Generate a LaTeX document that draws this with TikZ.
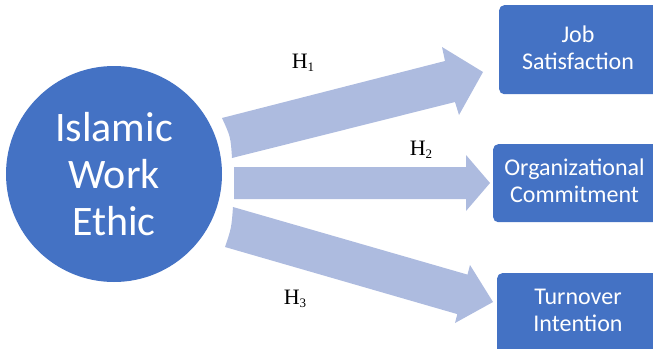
\documentclass[tikz,border=0pt]{standalone}
\usepackage{fontspec}
\setmainfont{Liberation Serif}
\newfontfamily\calib{Carlito}
\definecolor{iweblue}{HTML}{4472C4}
\definecolor{arrowblue}{HTML}{ADBBDF}
\begin{document}
\begin{tikzpicture}[x=1pt,y=-1pt,
  mainbox/.style={fill=iweblue, rounded corners=5pt, inner sep=0pt, anchor=north west},
  boxtext/.style={text=white, font=\calib\fontsize{24}{27}\selectfont, align=center, inner sep=0pt},
  hlabel/.style={font=\fontsize{22}{24}\selectfont, inner sep=0pt},
  blockarrow/.style={fill=arrowblue}]
\useasboundingbox (0,0) rectangle (653,348);
\clip (0,0) rectangle (653,348);
% central circle
\node[circle, fill=iweblue, minimum size=216pt, inner sep=0pt,
      text=white, font=\calib\fontsize{42}{47}\selectfont, align=center] (iwe) at (114,174) {Islamic\\Work\\Ethic};
% boxes
\node[mainbox, minimum width=170pt, minimum height=89pt] (js) at (499,5) {};
\node[mainbox, minimum width=175pt, minimum height=78pt] (oc) at (493,144) {};
\node[mainbox, minimum width=170pt, minimum height=85pt] (ti) at (497,273) {};
\node[boxtext] (jst) at (578,48) {Job\\Satisfaction};
\node[boxtext] (oct) at (574.5,181) {Organizational\\Commitment};
\node[boxtext] (tit) at (578,310) {Turnover\\Intention};
% block arrows
\fill[blockarrow] (232,158) .. controls (230.6,136.8) .. (222,118) -- (445,61) -- (442,47)
  -- (483,72) -- (459,115) -- (455,102) -- cycle;
\fill[blockarrow] (234,199) -- (234,167) -- (466,167) -- (466,155) -- (490,183)
  -- (466,211) -- (466,199) -- cycle;
\fill[blockarrow] (225,247) .. controls (231.4,228.1) .. (233,207) -- (467.5,274.6) -- (470,265)
  -- (493,302) -- (455,323) -- (457.3,314.1) -- cycle;
% labels
\node[hlabel] (h1) at (303,63) {H\raisebox{-0.12em}{\fontsize{13}{13}\selectfont 1}};
\node[hlabel] (h2) at (421,150) {H\raisebox{-0.12em}{\fontsize{13}{13}\selectfont 2}};
\node[hlabel] (h3) at (295,299) {H\raisebox{-0.12em}{\fontsize{13}{13}\selectfont 3}};
\end{tikzpicture}
\end{document}
